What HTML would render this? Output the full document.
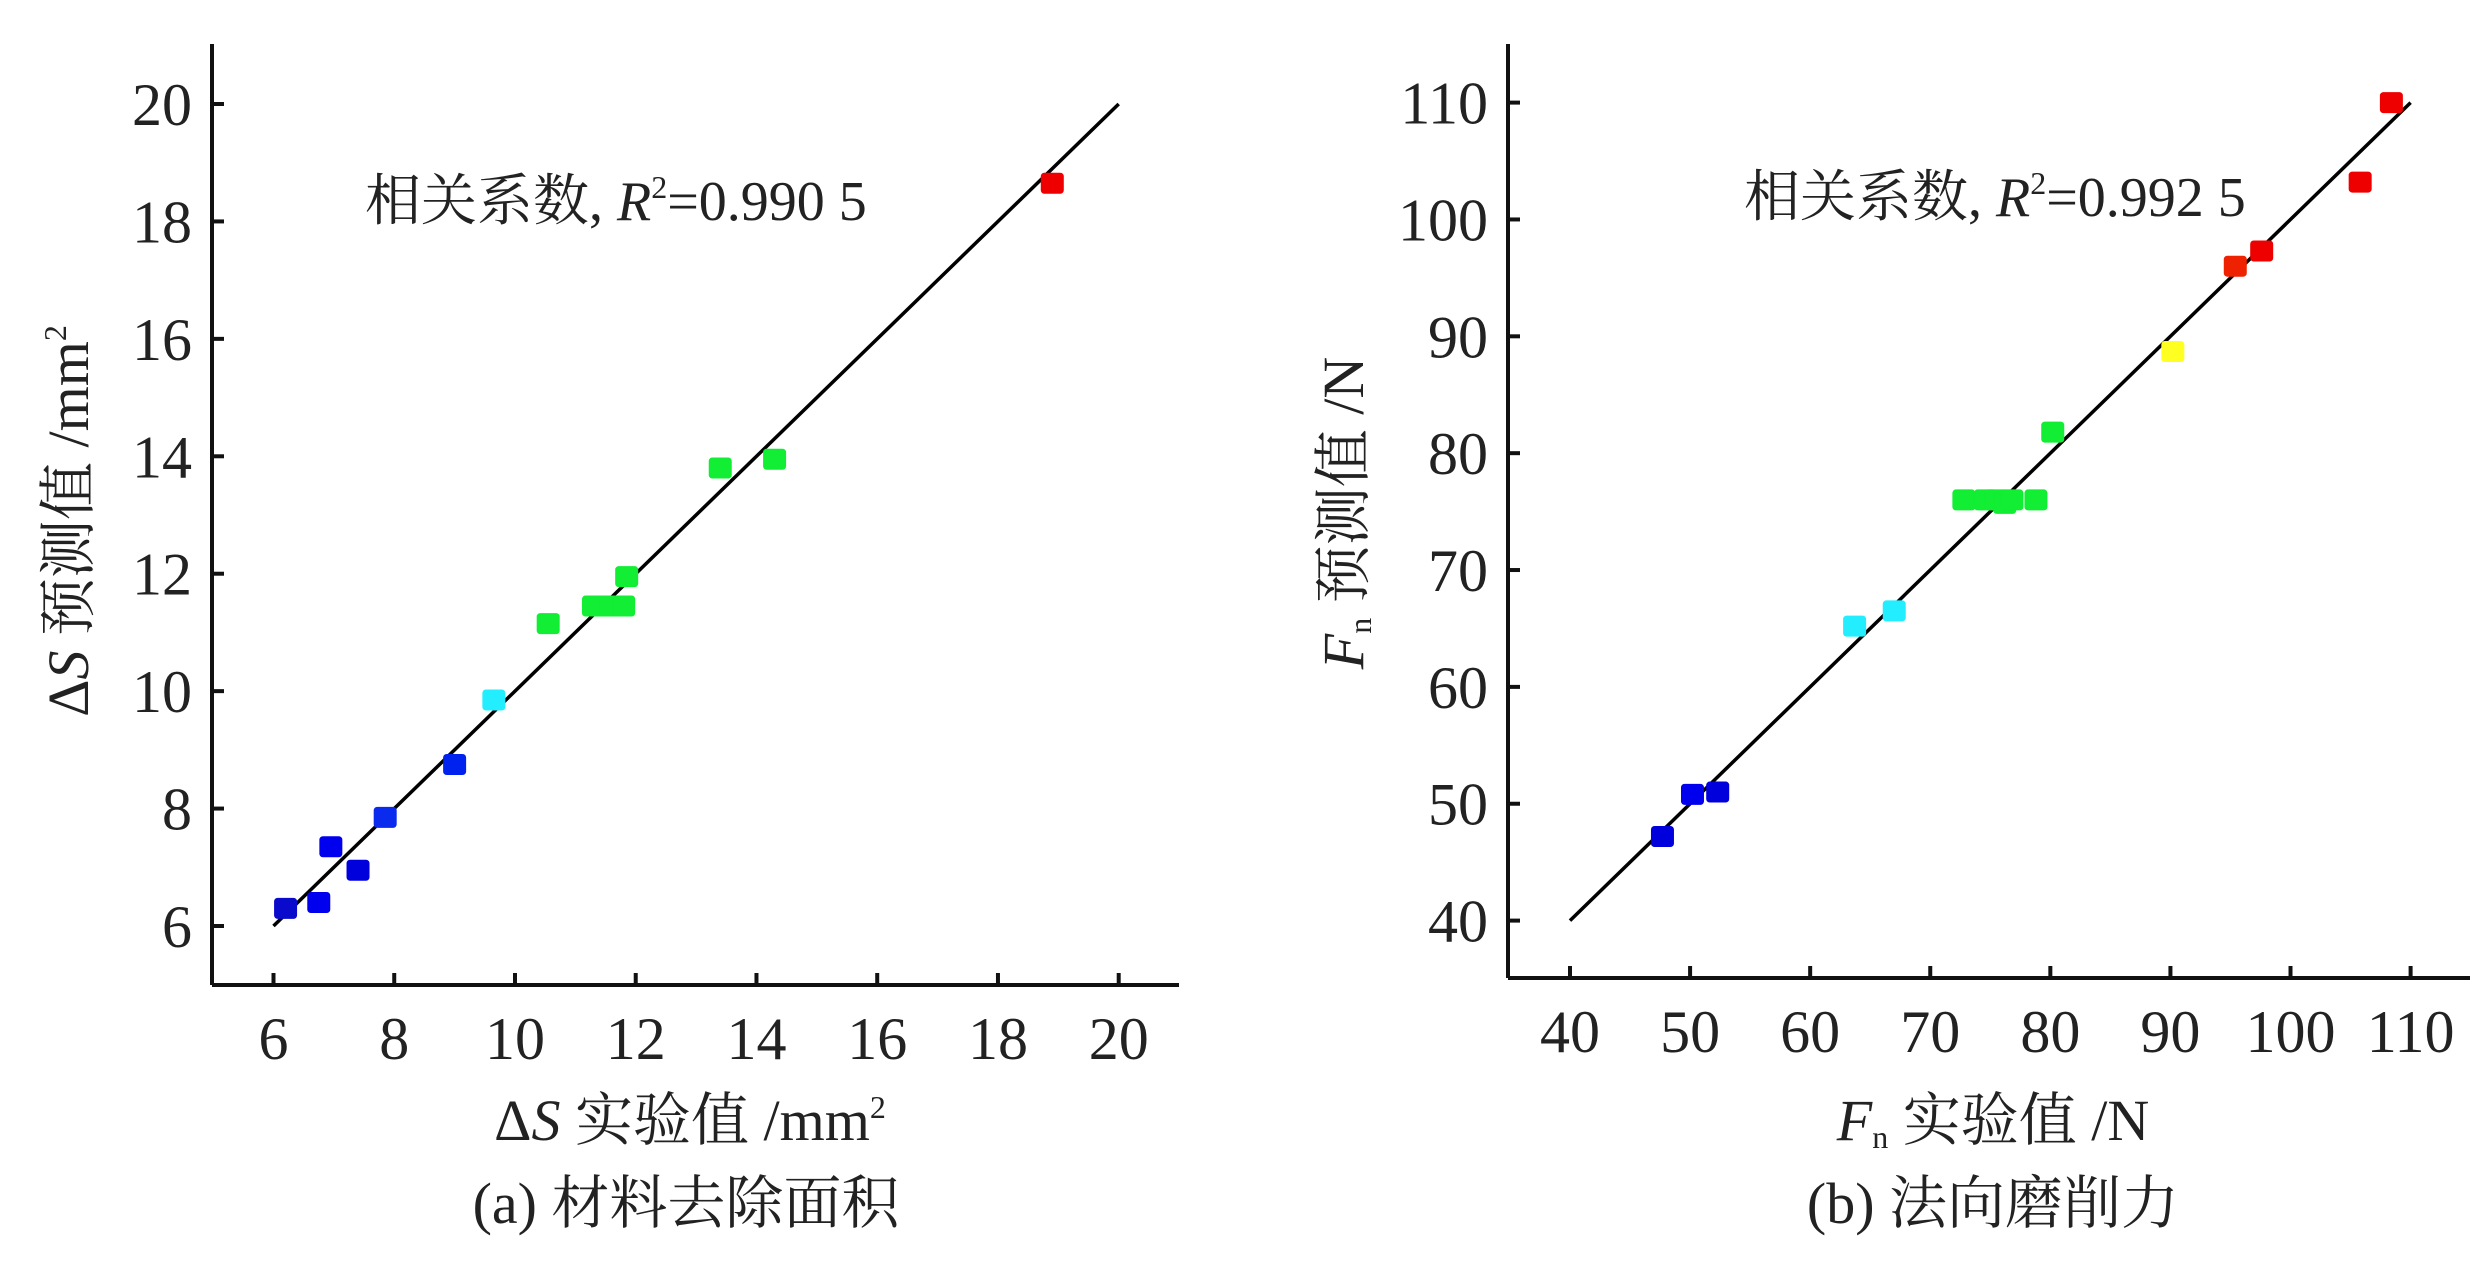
<!DOCTYPE html>
<html><head><meta charset="utf-8">
<style>
html,body{margin:0;padding:0;background:#fff;}
svg{display:block;}
text{font-family:"Liberation Serif","Noto Serif CJK SC","Noto Sans CJK SC",serif;fill:#222;}
</style></head>
<body>
<svg id="chart" width="2487" height="1280" viewBox="0 0 2487 1280" xmlns="http://www.w3.org/2000/svg">
<g id="pa"></g>
<g id="pb"></g>
</svg>
<script>
const aX=[6.2,6.75,6.95,7.4,7.85,9.0,9.65,10.55,11.3,11.55,11.8,11.85,13.4,14.3,18.9];
const aY=[6.3,6.4,7.35,6.95,7.85,8.75,9.85,11.15,11.45,11.45,11.45,11.95,13.8,13.95,18.65];
const aC=["#0a0acc","#0000ee","#0000ee","#0000dd","#0a2aee","#0022ee","#22eeff","#11ee33","#11ee33","#11ee33","#11ee33","#11ee33","#11ee33","#11ee33","#ee0000"];
const aTicks=[6,8,10,12,14,16,18,20];
const bX=[47.7,50.2,52.3,63.7,67.0,72.8,74.6,75.5,76.2,76.8,78.8,80.2,90.2,95.4,97.6,105.8,108.4];
const bY=[47.2,50.8,51.0,65.2,66.5,76.0,76.0,76.0,75.7,76.0,76.0,81.8,88.7,96.0,97.3,103.2,110.0];
const bC=["#0000dd","#0000ee","#0000dd","#22eeff","#22eeff","#11ee33","#11ee33","#11ee33","#11ee33","#11ee33","#11ee33","#11ee33","#ffff22","#ee2200","#ee0000","#ee0000","#ee0000"];
const bTicks=[40,50,60,70,80,90,100,110];
const NS="http://www.w3.org/2000/svg";
function mk(parent,tag,attrs){const e=document.createElementNS(NS,tag);for(const k in attrs)e.setAttribute(k,attrs[k]);parent.appendChild(e);return e;}
function panel(g,cfg){
  const sx=v=>cfg.x0+(v-cfg.t0)*(cfg.x1-cfg.x0)/(cfg.t1-cfg.t0);
  const sy=v=>cfg.y0+(v-cfg.t0)*(cfg.y1-cfg.y0)/(cfg.t1-cfg.t0);
  let ax=mk(g,'line',{x1:cfg.axL,y1:cfg.axB,x2:cfg.axR,y2:cfg.axB,stroke:'#111','stroke-width':4});
  
  
  let ay=mk(g,'line',{x1:cfg.axL,y1:cfg.axT,x2:cfg.axL,y2:cfg.axB,stroke:'#111','stroke-width':4});
  
  
  cfg.ticks.forEach(t=>{
    let tx=mk(g,'line',{x1:sx(t),y1:cfg.axB,x2:sx(t),y2:cfg.axB-12,stroke:'#111','stroke-width':4});
    
    
    let lx=mk(g,'text',{x:sx(t),y:cfg.axB+74,'font-size':60,'text-anchor':'middle'});
    lx.textContent=t;
    
    
    let ty=mk(g,'line',{x1:cfg.axL,y1:sy(t),x2:cfg.axL+12,y2:sy(t),stroke:'#111','stroke-width':4});
    
    
    let ly=mk(g,'text',{x:cfg.axL-20,y:sy(t)+21,'font-size':60,'text-anchor':'end'});
    ly.textContent=t;
    
    
  });
  let fl=mk(g,'line',{x1:sx(cfg.t0),y1:sy(cfg.t0),x2:sx(cfg.t1),y2:sy(cfg.t1),stroke:'#000','stroke-width':3.5});
  
  
  cfg.xs.forEach((v,i)=>{
    let r=mk(g,'rect',{x:sx(v)-11,y:sy(cfg.ys[i])-10,width:22,height:20,rx:3,fill:cfg.cs[i],stroke:cfg.cs[i],'stroke-width':1});
    
    
  });
}
panel(document.getElementById('pa'),{x0:273.5,x1:1118.7,y0:926,y1:104,t0:6,t1:20,axL:212,axR:1179,axT:44,axB:985,ticks:aTicks,xs:aX,ys:aY,cs:aC});
panel(document.getElementById('pb'),{x0:1570,x1:2410.6,y0:920.6,y1:102.6,t0:40,t1:110,axL:1508,axR:2470,axT:44,axB:978,ticks:bTicks,xs:bX,ys:bY,cs:bC});
</script>
<svg width="2487" height="1280" style="position:absolute;left:0;top:0" xmlns="http://www.w3.org/2000/svg">
<text x="365" y="220" font-size="56">相关系数, <tspan font-style="italic">R</tspan><tspan font-size="32" dy="-22">2</tspan><tspan dy="22">=0.990 5</tspan></text>
<text x="690" y="1140" font-size="58" text-anchor="middle">Δ<tspan font-style="italic">S</tspan> 实验值 /mm<tspan font-size="32" dy="-22">2</tspan></text>
<text x="686" y="1223" font-size="58" text-anchor="middle">(a) 材料去除面积</text>
<text transform="translate(88,521) rotate(-90)" font-size="58" text-anchor="middle">Δ<tspan font-style="italic">S</tspan> 预测值 /mm<tspan font-size="32" dy="-22">2</tspan></text>
<text x="1744" y="216" font-size="56">相关系数, <tspan font-style="italic">R</tspan><tspan font-size="32" dy="-22">2</tspan><tspan dy="22">=0.992 5</tspan></text>
<text x="1993" y="1140" font-size="58" text-anchor="middle"><tspan font-style="italic">F</tspan><tspan font-size="32" dy="8">n</tspan><tspan dy="-8"> 实验值 /N</tspan></text>
<text x="1993" y="1223" font-size="58" text-anchor="middle">(b) 法向磨削力</text>
<text transform="translate(1363,513) rotate(-90)" font-size="58" text-anchor="middle"><tspan font-style="italic">F</tspan><tspan font-size="32" dy="8">n</tspan><tspan dy="-8"> 预测值 /N</tspan></text>
</svg>
</body></html>
